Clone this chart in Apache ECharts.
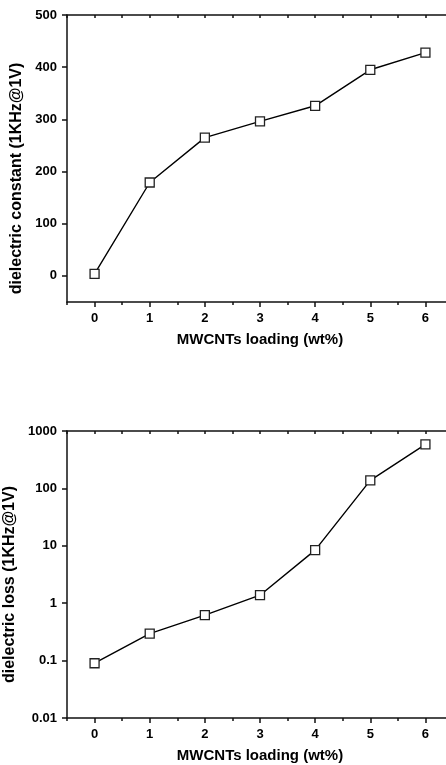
<!DOCTYPE html>
<html>
<head>
<meta charset="utf-8">
<script src="https://cdn.jsdelivr.net/npm/echarts@6/dist/echarts.min.js"></script>
<style>html,body{margin:0;padding:0;background:#fff}#c{width:446px;height:765px}</style>
</head>
<body>
<div id="c"></div>
<script>
const loading = [0, 1, 2, 3, 4, 5, 6];
const dielectricConstant = [4, 179, 265, 296, 326, 395, 428];
const dielectricLoss = [0.09, 0.295, 0.62, 1.38, 8.4, 138, 585];
const xTicks = [0, 1, 2, 3, 4, 5, 6];
const xMinorTicks = [-0.5, 0.5, 1.5, 2.5, 3.5, 4.5, 5.5, 6.5];
const constTicks = [0, 100, 200, 300, 400, 500];
const lossTicks = [0.01, 0.1, 1, 10, 100, 1000];
const lossLabels = ['0.01', '0.1', '1', '10', '100', '1000'];
const xTitle = 'MWCNTs loading (wt%)';
const constTitle = 'dielectric constant (1KHz@1V)';
const lossTitle = 'dielectric loss (1KHz@1V)';

const lossMinorTicks = [];
for (let d = 0; d < lossTicks.length - 1; d++) {
  for (let m = 2; m <= 9; m++) lossMinorTicks.push(+(lossTicks[d] * m).toPrecision(3));
}
const xTopTicks = xTicks.concat(xMinorTicks);

const FONT = '"Liberation Sans", Arial, sans-serif';
const lineStyle = { color: '#111', width: 1.5 };

function xAxesFor(g) {
  return [
    {
      gridIndex: g, type: 'value', position: 'bottom', min: -0.5, max: 6.5,
      axisLine: { show: true, onZero: false, lineStyle },
      axisTick: { show: true, inside: false, length: 5, customValues: xTicks, lineStyle },
      axisLabel: { show: true, customValues: xTicks, margin: 10, color: '#000', fontWeight: 'bold', fontSize: 13, fontFamily: FONT },
      splitLine: { show: false },
      name: xTitle, nameLocation: 'middle', nameGap: 30,
      nameTextStyle: { color: '#000', fontWeight: 'bold', fontSize: 15, fontFamily: FONT }
    },
    {
      gridIndex: g, type: 'value', position: 'bottom', min: -0.5, max: 6.5,
      axisLine: { show: false, onZero: false },
      axisTick: { show: true, inside: false, length: 3, customValues: xMinorTicks, lineStyle },
      axisLabel: { show: false },
      splitLine: { show: false }
    },
    {
      gridIndex: g, type: 'value', position: 'top', min: -0.5, max: 6.5,
      axisLine: { show: true, onZero: false, lineStyle },
      axisTick: { show: true, inside: true, length: 3, customValues: xTopTicks, lineStyle },
      axisLabel: { show: false },
      splitLine: { show: false }
    }
  ];
}

const option = {
  animation: false,
  backgroundColor: '#fff',
  grid: [
    { left: 67, right: -7, top: 15, height: 287, containLabel: false, outerBoundsMode: 'none' },
    { left: 67, right: -7, top: 431, height: 287, containLabel: false, outerBoundsMode: 'none' }
  ],
  xAxis: xAxesFor(0).concat(xAxesFor(1)),
  yAxis: [
    {
      gridIndex: 0, type: 'value', min: -50, max: 500,
      axisLine: { show: true, onZero: false, lineStyle },
      axisTick: { show: true, inside: false, length: 5, customValues: constTicks, lineStyle },
      axisLabel: { show: true, customValues: constTicks, margin: 10, color: '#000', fontWeight: 'bold', fontSize: 13, fontFamily: FONT },
      splitLine: { show: false },
      name: constTitle, nameLocation: 'middle', nameGap: 38, nameRotate: 90,
      nameTextStyle: { color: '#000', fontWeight: 'bold', fontSize: 16, fontFamily: FONT, padding: [0, 40, 0, 0] }
    },
    {
      gridIndex: 1, type: 'log', logBase: 10, min: 0.01, max: 1000,
      axisLine: { show: true, onZero: false, lineStyle },
      axisTick: { show: true, inside: false, length: 5, customValues: lossTicks, lineStyle },
      axisLabel: {
        show: true, customValues: lossTicks, margin: 10, color: '#000', fontWeight: 'bold', fontSize: 13, fontFamily: FONT,
        formatter: function (v) {
          for (let i = 0; i < lossTicks.length; i++) {
            if (Math.abs(Math.log10(v) - Math.log10(lossTicks[i])) < 1e-6) return lossLabels[i];
          }
          return '';
        }
      },
      splitLine: { show: false },
      name: lossTitle, nameLocation: 'middle', nameGap: 38, nameRotate: 90,
      nameTextStyle: { color: '#000', fontWeight: 'bold', fontSize: 16, fontFamily: FONT, padding: [0, 20, 0, 0] }
    },
    {
      gridIndex: 1, type: 'log', logBase: 10, min: 0.01, max: 1000,
      axisLine: { show: false, onZero: false },
      axisTick: { show: true, inside: false, length: 3, customValues: lossMinorTicks, lineStyle },
      axisLabel: { show: false },
      splitLine: { show: false }
    }
  ],
  series: [
    {
      type: 'line', xAxisIndex: 0, yAxisIndex: 0,
      data: loading.map((x, i) => [x, dielectricConstant[i]]),
      symbol: 'rect', symbolSize: 9,
      lineStyle: { color: '#000', width: 1.4 },
      itemStyle: { color: '#fff', borderColor: '#222', borderWidth: 1.3 }
    },
    {
      type: 'line', xAxisIndex: 3, yAxisIndex: 1,
      data: loading.map((x, i) => [x, dielectricLoss[i]]),
      symbol: 'rect', symbolSize: 9,
      lineStyle: { color: '#000', width: 1.4 },
      itemStyle: { color: '#fff', borderColor: '#222', borderWidth: 1.3 }
    }
  ]
};
const chart = echarts.init(document.getElementById('c'), null, { renderer: 'canvas' });
chart.setOption(option);
</script>
</body>
</html>
